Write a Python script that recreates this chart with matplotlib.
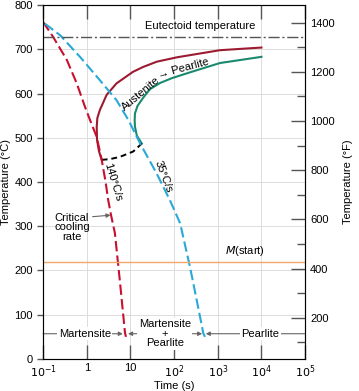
import matplotlib.pyplot as plt

plt.rcParams['font.family'] = ['Liberation Sans', 'DejaVu Sans']
plt.rcParams['font.size'] = 8

# pearlite start curve (red solid)
start_t = [2.2, 1.9, 1.72, 1.69, 1.75, 2.0, 2.85, 4.8, 11.4, 19.4, 40, 117, 1120, 10000]
start_T = [450, 470, 495, 525, 545, 563, 597, 623, 649, 660, 672, 682, 698, 704]

# pearlite finish curve (green)
finish_t = [18.2, 14.0, 12.7, 12.5, 12.7, 14.5, 19.4, 28, 48, 90, 269, 1120, 10000]
finish_T = [487, 505, 525, 540, 555, 572, 590, 610, 624, 635, 650, 669, 683]

# black dashed boundary
bound_t = [2.2, 3.5, 5.8, 11.6, 18.2]
bound_T = [450, 452, 457, 469, 487]

# critical cooling rate, 140 C/s (red dashed)
fast_t = [0.1, 0.17, 0.35, 0.59, 0.91, 1.19, 1.69, 2.2, 2.7, 3.1, 3.6, 4.4, 5.8, 7.5, 7.9]
fast_T = [762, 728, 676, 623, 570, 540, 502, 450, 400, 359, 325, 285, 171, 59, 50]

# 35 C/s (cyan dashed)
slow_t = [0.11, 0.245, 0.70, 2.0, 4.8, 9.0, 16.7, 40, 80, 137, 231, 329, 466, 510]
slow_T = [758, 732, 683, 630, 585, 540, 487, 419, 359, 307, 208, 133, 58, 50]

eutectoid_T = 727
ms_T = 220

fig = plt.figure(figsize=(3.59, 3.91), dpi=100)
ax = fig.add_axes([0.120, 0.082, 0.730, 0.905])

ax.plot(start_t, start_T, color='#9b1b30', lw=1.5)
ax.plot(finish_t, finish_T, color='#1a8a6e', lw=1.5)
ax.plot(bound_t, bound_T, color='black', lw=1.4, dashes=(3, 2))
ax.plot(fast_t, fast_T, color='#c8102e', lw=1.5, dashes=(5, 2))
ax.plot(slow_t, slow_T, color='#2aa8d8', lw=1.5, dashes=(5, 2))
ax.axhline(eutectoid_T, color='#555555', lw=1.0, dashes=(8, 2, 1.5, 2))
ax.axhline(ms_T, color='#f4a76a', lw=1.0)

ax.set_xscale('log')
ax.set_xlim(0.1, 1e5)
ax.set_ylim(0, 800)
ax.set_xticks([0.1, 1, 10, 100, 1e3, 1e4, 1e5])
ax.set_xticklabels(['$10^{-1}$', '1', '10', '$10^2$', '$10^3$', '$10^4$', '$10^5$'])
ax.minorticks_off()
ax.set_yticks(range(0, 801, 100))
ax.grid(True, color='#dcdcdc', lw=0.7)
ax.set_axisbelow(True)
ax.tick_params(axis='x', direction='in', length=10, top=True, width=1, color='#555555', pad=3)
ax.tick_params(axis='y', direction='out', length=4, width=1, color='#555555')
for s in ax.spines.values():
    s.set_color('#555555')
ax.set_xlabel('Time (s)', labelpad=1)
ax.set_ylabel('Temperature (°C)', labelpad=2)

ax2 = ax.twinx()
ax2.set_ylim(32, 1472)
ax2.set_yticks(range(200, 1401, 200))
ax2.set_yticks(range(100, 1401, 200), minor=True)
ax2.tick_params(axis='y', which='major', direction='in', length=10, width=1, color='#555555')
ax2.tick_params(axis='y', which='minor', direction='in', length=6, width=1, color='#555555')
ax2.set_ylabel('Temperature (°F)', labelpad=6)

# annotations
ax.text(390, 742, 'Eutectoid temperature', ha='center', va='bottom')
ax.text(17, 600, 'Austenite', ha='center', va='center', rotation=40)
ax.text(160, 656, '\u2192 Pearlite', ha='center', va='center', rotation=15)
ax.text(4.0, 400, '140°C/s', ha='center', va='center', rotation=-73)
ax.text(56, 412, '35°C/s', ha='center', va='center', rotation=-69)
ax.text(4200, 228, '$M$(start)', ha='center', va='bottom')
ax.annotate('Critical\ncooling\nrate', xy=(3.5, 325), xytext=(0.46, 298),
            ha='center', va='center', linespacing=0.95,
            arrowprops=dict(arrowstyle='-|>', color='#666666', lw=0.8,
                            mutation_scale=6, shrinkA=0, shrinkB=0,
                            relpos=(1.0, 0.85)))

# bottom region labels
y_lab = 57
grey = '#666666'
arr = dict(arrowstyle='-|>', color=grey, lw=0.8, mutation_scale=6, shrinkA=0, shrinkB=0)
ax.annotate('', xy=(6.7, y_lab), xytext=(0.1, y_lab), arrowprops=arr)
ax.annotate('', xy=(8.8, y_lab), xytext=(17, y_lab), arrowprops=arr)
ax.annotate('', xy=(440, y_lab), xytext=(210, y_lab), arrowprops=arr)
ax.annotate('', xy=(530, y_lab), xytext=(1e5, y_lab), arrowprops=arr)
bb = dict(facecolor='white', edgecolor='none', pad=1)
ax.text(0.9, y_lab, 'Martensite', ha='center', va='center', bbox=bb)
ax.text(61, y_lab, 'Martensite\n+\nPearlite', ha='center', va='center',
        linespacing=0.95, bbox=bb)
ax.text(9400, y_lab, 'Pearlite', ha='center', va='center', bbox=bb)

fig.savefig('out.png', dpi=100)
